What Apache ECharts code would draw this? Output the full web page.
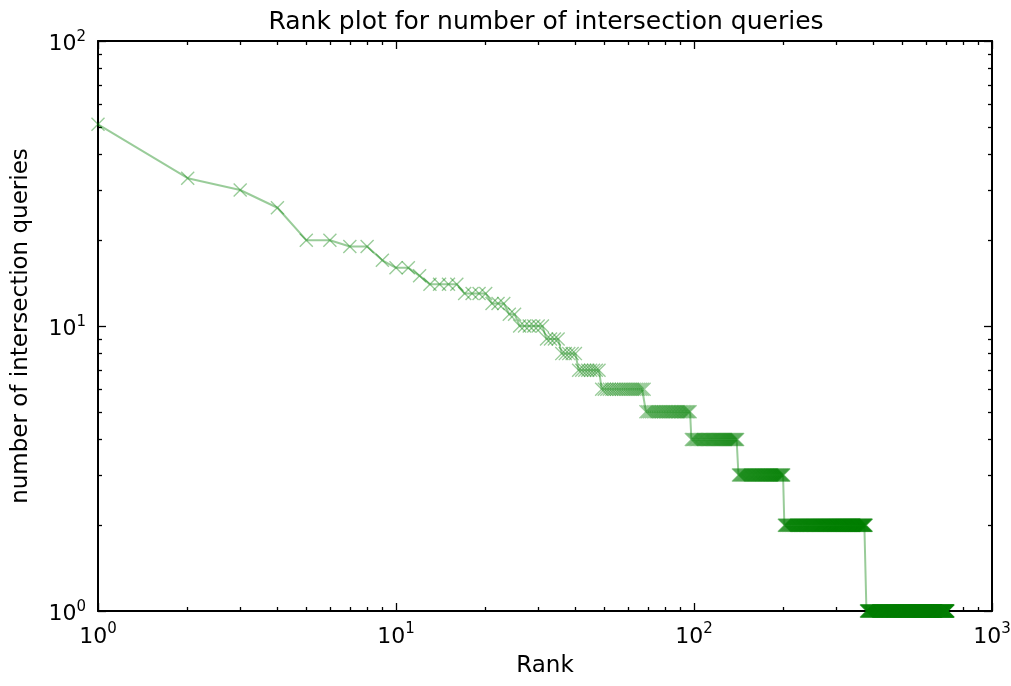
<!DOCTYPE html>
<html>
<head>
<meta charset="utf-8">
<script src="https://cdn.jsdelivr.net/npm/echarts@6/dist/echarts.min.js"></script>
<style>html,body{margin:0;padding:0;background:#fff}#c{width:1011px;height:686px}</style>
</head>
<body>
<div id="c"></div>
<script>
// Distinct observed values (descending) and how many ranks share each value
const values = [51, 33, 30, 26, 20, 19, 17, 16, 15, 14, 13, 12, 11, 10, 9, 8, 7, 6, 5, 4, 3, 2, 1];
const counts = [1, 1, 1, 1, 2, 2, 1, 2, 1, 4, 4, 3, 2, 6, 4, 5, 8, 20, 29, 43, 60, 178, 333];
const majorTicksX = [1, 10, 100, 1000];
const minorTicksX = [2,3,4,5,6,7,8,9,20,30,40,50,60,70,80,90,200,300,400,500,600,700,800,900];
const majorTicksY = [1, 10, 100];
const minorTicksY = [2,3,4,5,6,7,8,9,20,30,40,50,60,70,80,90];
const titleText = 'Rank plot for number of intersection queries';
const xLabel = 'Rank';
const yLabel = 'number of intersection queries';

const data = [];
let r = 0;
values.forEach((v, i) => { for (let k = 0; k < counts[i]; k++) { r++; data.push([r, v]); } });

const FONT = 'DejaVu Sans';
const fmt = v => '{b|10}{s|' + Math.round(Math.log10(v)) + '}';
const rich = {
  b: { fontSize: 22, fontFamily: FONT, color: '#000', lineHeight: 30 },
  s: { fontSize: 15, fontFamily: FONT, color: '#000', lineHeight: 12, verticalAlign: 'top' }
};
const X_SYM = 'path://M0,7L7,0L50,43L93,0L100,7L57,50L100,93L93,100L50,57L7,100L0,93L43,50Z';

function axis(kind, pos, ticks, len, opts) {
  const isX = kind === 'x';
  const a = {
    type: 'log', logBase: 10,
    min: 1, max: isX ? 1000 : 100,
    position: pos,
    axisLine: { show: !!opts.line, onZero: false, lineStyle: { color: '#000', width: 2 } },
    axisTick: { show: true, inside: true, length: len, customValues: ticks, lineStyle: { color: '#000', width: 1.3 } },
    axisLabel: { show: false },
    splitLine: { show: false },
    minorTick: { show: false }
  };
  if (opts.labels) {
    a.axisLabel = { show: true, customValues: ticks, formatter: fmt, rich: rich, margin: opts.margin };
    if (opts.pad) a.axisLabel.padding = opts.pad;
  }
  if (opts.name) {
    a.name = opts.name;
    a.nameLocation = 'middle';
    a.nameGap = opts.nameGap;
    a.nameTextStyle = { fontSize: 23, fontFamily: FONT, color: '#000' };
  }
  return a;
}

const option = {
  animation: false,
  backgroundColor: '#fff',
  title: {
    text: titleText, left: 541, top: 5, textAlign: 'center',
    textStyle: { fontSize: 25, fontFamily: FONT, fontWeight: 'normal', color: '#000' }
  },
  grid: { left: 98, right: 19, top: 41, bottom: 75, containLabel: false, outerBoundsMode: 'none' },
  xAxis: [
    axis('x', 'bottom', majorTicksX, 8, { line: true, labels: true, margin: 11, name: xLabel, nameGap: 44 }),
    axis('x', 'top', majorTicksX, 8, { line: true }),
    axis('x', 'bottom', minorTicksX, 4, {}),
    axis('x', 'top', minorTicksX, 4, {})
  ],
  yAxis: [
    axis('y', 'left', majorTicksY, 8, { line: true, labels: true, margin: 12, pad: [7, 0, 0, 0], name: yLabel, nameGap: 65 }),
    axis('y', 'right', majorTicksY, 8, { line: true }),
    axis('y', 'left', minorTicksY, 4, {}),
    axis('y', 'right', minorTicksY, 4, {})
  ],
  series: [{
    type: 'line',
    xAxisIndex: 0, yAxisIndex: 0,
    data: data,
    showSymbol: true, showAllSymbol: true,
    symbol: X_SYM, symbolSize: 14,
    itemStyle: { color: 'rgba(0,128,0,0.4)' },
    lineStyle: { color: 'rgba(0,128,0,0.4)', width: 2 },
    emphasis: { disabled: true },
    z: 3
  }]
};

const chart = echarts.init(document.getElementById('c'), null, { renderer: 'canvas' });
chart.setOption(option);
</script>
</body>
</html>
